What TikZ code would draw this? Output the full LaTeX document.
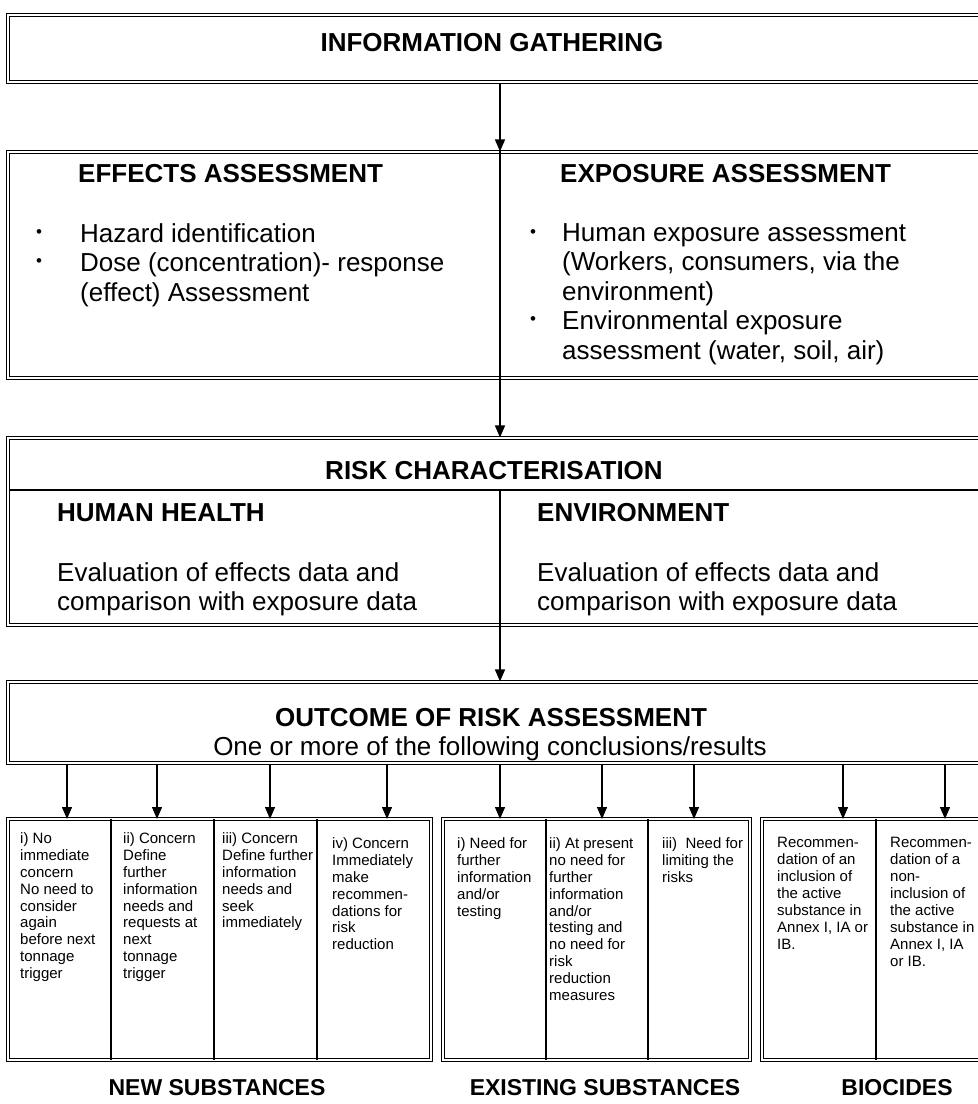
\documentclass[tikz,border=0pt]{standalone}
\usepackage{fontspec}
\setmainfont{Liberation Sans}
\usetikzlibrary{arrows.meta}

\begin{document}
\begin{tikzpicture}[x=1pt, y=-1pt]
\tikzstyle{frame} = [draw=black, double, double distance=2pt, line width=1.1pt, inner sep=0pt]
\tikzstyle{divider} = [draw=black, line width=1.2pt]
\tikzstyle{flow} = [draw=black, line width=1.3pt, -{Triangle[length=12pt, width=10pt]}]
\tikzstyle{headtext} = [font=\fontsize{26}{30}\selectfont\bfseries, inner sep=0pt]
\tikzstyle{bodytext} = [font=\fontsize{26}{29.4}\selectfont, align=left, inner sep=0pt, anchor=north west]
\tikzstyle{smalltext} = [font=\fontsize{15}{16.9}\selectfont, align=left, inner sep=0pt, anchor=north west]
\tikzstyle{grouptitle} = [font=\fontsize{23}{26}\selectfont\bfseries, inner sep=0pt, anchor=base]
\tikzstyle{bulletmark} = [font=\fontsize{17}{17}\selectfont, inner sep=0pt]

\path[fill=white, use as bounding box] (0,0) rectangle (978,1104);
\clip (0,0) rectangle (978,1104);

% boxes
\node[frame, minimum width=984pt, minimum height=67pt] (info) at (500,48.5) {};
\node[frame, minimum width=984pt, minimum height=226pt] (effexp) at (500,265) {};
\node[frame, minimum width=984pt, minimum height=187pt] (risk) at (500,531.5) {};
\node[frame, minimum width=984pt, minimum height=81pt] (outcome) at (500,722.5) {};

\node[frame, minimum width=423pt, minimum height=241pt] (newsub) at (219.5,939.5) {};
\node[frame, minimum width=307pt, minimum height=241pt] (exsub) at (596.5,939.5) {};
\node[frame, minimum width=230pt, minimum height=241pt] (biocide) at (877,939.5) {};

% texts
\node[headtext, anchor=base] (infotitle) at (492,51.3) {INFORMATION GATHERING};

\node[headtext, anchor=base west] (efftitle) at (78,182.3) {EFFECTS ASSESSMENT};
\node[bulletmark] (effb1) at (39,234) {\textbullet};
\node[bulletmark] (effb2) at (39,263) {\textbullet};
\node[bodytext] (efftext) at (80,223.5) {Hazard identification\\Dose (concentration)- response\\(effect) Assessment};

\node[headtext, anchor=base west] (exptitle) at (560,182.3) {EXPOSURE ASSESSMENT};
\node[bulletmark] (expb1) at (533,234) {\textbullet};
\node[bulletmark] (expb2) at (533,321) {\textbullet};
\node[bodytext] (exptext) at (562,223.5) {Human exposure assessment\\(Workers, consumers, via the\\environment)\\Environmental exposure\\assessment (water, soil, air)};

\node[headtext, anchor=base] (risktitle) at (494,479.3) {RISK CHARACTERISATION};
\node[headtext, anchor=base west] (hhtitle) at (57,521.3) {HUMAN HEALTH};
\node[headtext, anchor=base west] (envtitle) at (537,521.3) {ENVIRONMENT};
\node[bodytext] (hhtext) at (57,562.5) {Evaluation of effects data and\\comparison with exposure data};
\node[bodytext] (envtext) at (537,562.5) {Evaluation of effects data and\\comparison with exposure data};

\node[headtext, anchor=base] (outtitle) at (491,726.3) {OUTCOME OF RISK ASSESSMENT};
\node[font=\fontsize{26}{30}\selectfont, inner sep=0pt, anchor=base] (outsub) at (490,755.3) {One or more of the following conclusions/results};

\node[smalltext] (n1) at (20,832.4) {i) No\\immediate\\concern\\No need to\\consider\\again\\before next\\tonnage\\trigger};
\node[smalltext] (n2) at (123,832.4) {ii) Concern\\Define\\further\\information\\needs and\\requests at\\next\\tonnage\\trigger};
\node[smalltext] (n3) at (222,832.4) {iii) Concern\\Define further\\information\\needs and\\seek\\immediately};
\node[smalltext] (n4) at (332,837.4) {iv) Concern\\Immediately\\make\\recommen-\\dations for\\risk\\reduction};
\node[smalltext] (e1) at (457,837.4) {i) Need for\\further\\information\\and/or\\testing};
\node[smalltext] (e2) at (549,837.4) {ii) At present\\no need for\\further\\information\\and/or\\testing and\\no need for\\risk\\reduction\\measures};
\node[smalltext] (e3) at (662,837.4) {iii)\ \ Need for\\limiting the\\risks};
\node[smalltext] (b1) at (777,837.4) {Recommen-\\dation of an\\inclusion of\\the active\\substance in\\Annex I, IA or\\IB.};
\node[smalltext] (b2) at (890,837.4) {Recommen-\\dation of a\\non-\\inclusion of\\the active\\substance in\\Annex I, IA\\or IB.};

\node[grouptitle] (newtitle) at (217,1095.2) {NEW SUBSTANCES};
\node[grouptitle] (extitle) at (605,1095.2) {EXISTING SUBSTANCES};
\node[grouptitle] (biotitle) at (897,1095.2) {BIOCIDES};

% inner rules
\draw[divider] (effexp.north) -- (effexp.south);
\draw[divider] (9,490) -- (992,490);
\draw[divider] (500,490) -- (risk.south);
\draw[divider] (111,819) -- (111,1060);
\draw[divider] (214,819) -- (214,1060);
\draw[divider] (317,819) -- (317,1060);
\draw[divider] (546,819) -- (546,1060);
\draw[divider] (648,819) -- (648,1060);
\draw[divider] (876,819) -- (876,1060);

% arrows
\draw[flow] (info.south) -- (effexp.north);
\draw[flow] (effexp.south) -- (risk.north);
\draw[flow] (risk.south) -- (outcome.north);

\coordinate (t1) at (67,819);
\coordinate (t2) at (157,819);
\coordinate (t3) at (270,819);
\coordinate (t4) at (387,819);
\coordinate (t5) at (500,819);
\coordinate (t6) at (602,819);
\coordinate (t7) at (694,819);
\coordinate (t8) at (843,819);
\coordinate (t9) at (945,819);
\foreach \t in {t1,t2,t3,t4,t5,t6,t7,t8,t9}
  \draw[flow] (outcome.south -| \t) -- (\t);
\end{tikzpicture}
\end{document}
